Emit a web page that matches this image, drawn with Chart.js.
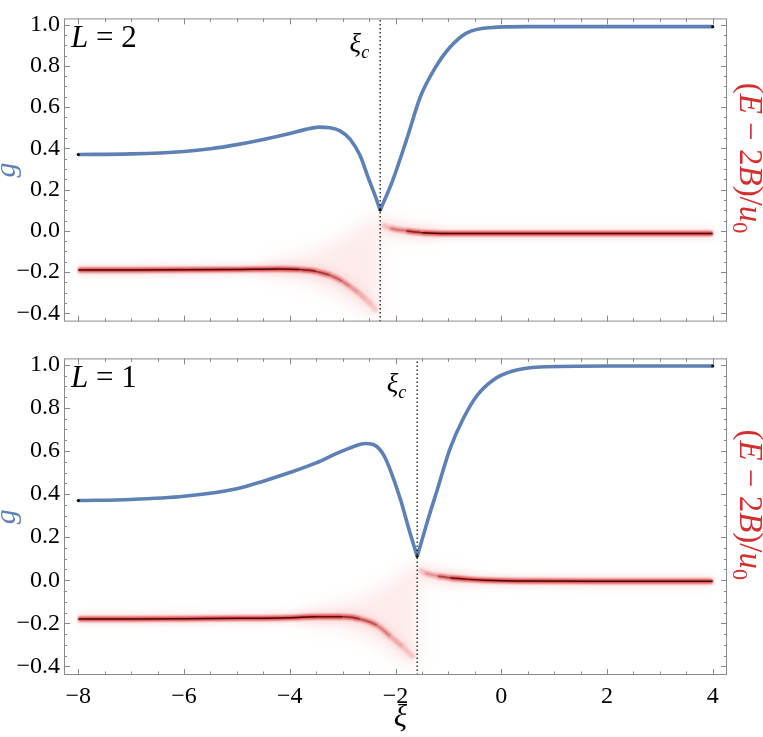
<!DOCTYPE html>
<html>
<head>
<meta charset="utf-8">
<script src="https://cdn.jsdelivr.net/npm/chart.js@4.4.1/dist/chart.umd.min.js"></script>
<style>
  html, body { margin: 0; padding: 0; background: #fff; }
  #wrap { position: relative; width: 763px; height: 737px; }
  canvas { position: absolute; left: 0; display: block; }
  #chart-top { top: 0; }
  #chart-bottom { top: 340px; }
</style>
</head>
<body>
<div id="wrap">
  <canvas id="chart-top" width="763" height="340"></canvas>
  <canvas id="chart-bottom" width="763" height="397"></canvas>
</div>
<script>
// axis ranges and tick labels
const xiRange = [-8.27, 4.27];
const gRange = [-0.44, 1.03];
const xTicks = [-8, -6, -4, -2, 0, 2, 4];
const yTicks = [-0.4, -0.2, 0.0, 0.2, 0.4, 0.6, 0.8, 1.0];

// L = 2 (top panel)
const xiC2 = -2.29;
const gLeftXi2 = [-8, -7, -6, -5.5, -5, -4.5, -4, -3.7, -3.45, -3.25, -3.05, -2.86, -2.67, -2.52, -2.4, -2.29];
const gLeft2 = [0.37, 0.373, 0.385, 0.398, 0.418, 0.443, 0.472, 0.492, 0.503, 0.50, 0.485, 0.445, 0.365, 0.26, 0.18, 0.10];
const gRightXi2 = [-2.29, -2.06, -1.78, -1.53, -1.25, -0.97, -0.65, -0.21, 0.5, 2, 4];
const gRight2 = [0.10, 0.24, 0.45, 0.65, 0.79, 0.89, 0.96, 0.985, 0.99, 0.99, 0.99];
const eLeftXi2 = [-8, -7, -6, -5, -4.2, -3.8, -3.5, -3.24, -3.0, -2.86, -2.7, -2.57, -2.45, -2.35];
const eLeft2 = [-0.19, -0.19, -0.189, -0.187, -0.185, -0.188, -0.197, -0.215, -0.245, -0.27, -0.30, -0.33, -0.36, -0.39];
const eRightXi2 = [-2.25, -2.1, -1.8, -1.5, -1.0, 0, 2, 4];
const eRight2 = [0.03, 0.013, 0.0, -0.009, -0.013, -0.013, -0.013, -0.013];
// spread of the energy density near the crossing
const fanLeftXi2 = [-4.5, -3.8, -3.2, -2.8, -2.5, -2.3];
const fanLeftUp2 = [-0.16, -0.12, -0.06, 0.0, 0.05, 0.09];
const fanLeftLo2 = [-0.21, -0.24, -0.30, -0.36, -0.41, -0.42];
const fanRightXi2 = [-2.29, -2.0, -1.6, -1.2];
const fanRightUp2 = [0.07, 0.045, 0.02, 0.01];
const fanRightLo2 = [-0.02, -0.025, -0.03, -0.03];

// L = 1 (bottom panel)
const xiC1 = -1.59;
const gLeftXi1 = [-8, -7, -6, -5, -4.5, -4, -3.5, -3.1, -2.8, -2.57, -2.38, -2.22, -2.08, -1.9, -1.75, -1.59];
const gLeft1 = [0.37, 0.375, 0.39, 0.425, 0.46, 0.50, 0.545, 0.59, 0.62, 0.635, 0.625, 0.58, 0.50, 0.37, 0.24, 0.11];
const gRightXi1 = [-1.59, -1.4, -1.21, -0.97, -0.72, -0.45, -0.15, 0.2, 0.73, 2, 4];
const gRight1 = [0.11, 0.27, 0.42, 0.61, 0.75, 0.86, 0.93, 0.97, 0.99, 0.995, 0.995];
const eLeftXi1 = [-8, -7, -6, -5, -4, -3.48, -2.99, -2.67, -2.35, -2.1, -1.86, -1.65];
const eLeft1 = [-0.18, -0.18, -0.179, -0.177, -0.174, -0.17, -0.17, -0.18, -0.21, -0.26, -0.31, -0.36];
const eRightXi1 = [-1.55, -1.45, -1.2, -0.97, -0.6, -0.3, 0.5, 2, 4];
const eRight1 = [0.05, 0.035, 0.02, 0.012, 0.004, 0.0, -0.004, -0.005, -0.005];
const fanLeftXi1 = [-3.8, -3.0, -2.5, -2.1, -1.8, -1.59];
const fanLeftUp1 = [-0.15, -0.11, -0.07, -0.01, 0.05, 0.09];
const fanLeftLo1 = [-0.20, -0.22, -0.27, -0.33, -0.39, -0.41];
const fanRightXi1 = [-1.59, -1.3, -0.9, -0.5];
const fanRightUp1 = [0.08, 0.05, 0.03, 0.02];
const fanRightLo1 = [0.0, -0.01, -0.02, -0.02];

const SERIF = 'Liberation Serif, DejaVu Serif, serif';
const BLUE = '#5e81b5';
const RED = '#d0302f';

function fmt(v, digits) {
  const s = (Math.abs(v) < 1e-9 ? 0 : v).toFixed(digits);
  return s.replace('-', '\u2212');
}

function fade(rgb, alpha, xFull, xZero, floor) {
  return ctx => {
    const x = (ctx.p0.parsed.x + ctx.p1.parsed.x) / 2;
    const t = Math.min(1, Math.max(0, (x - xFull) / (xZero - xFull)));
    return `rgba(${rgb},${alpha * (1 - (1 - floor) * t)})`;
  };
}

function lineSet(xs, ys, style) {
  return Object.assign({
    data: xs.map((x, i) => ({ x, y: ys[i] })),
    pointRadius: 0,
    fill: false,
    cubicInterpolationMode: 'monotone'
  }, style);
}

function redLayers(xs, ys, xiC, side) {
  const reach = side === 'left' ? -1.4 : 0.7;
  return [
    lineSet(xs, ys, { borderWidth: 11, blur: 3.5, order: 6, borderColor: 'rgba(225,50,50,0.12)',
      segment: { borderColor: fade('225,50,50', 0.12, xiC + reach, xiC, 0.6) } }),
    lineSet(xs, ys, { borderWidth: 5, blur: 1, order: 5, borderColor: 'rgba(215,30,30,0.8)',
      segment: { borderColor: fade('215,30,30', 0.8, xiC + reach, xiC, 0.12) } }),
    lineSet(xs, ys, { borderWidth: 1.5, order: 4, borderColor: 'rgba(70,5,5,0.95)',
      segment: { borderColor: fade('70,5,5', 0.95, xiC + reach * 1.3, xiC + reach * 0.3, 0) } })
  ];
}

function drawRich(ctx, parts, size, x, y, align) {
  const fontOf = p => `${p[1] ? 'italic ' : ''}${p[2] ? Math.round(size * 0.68) : size}px ${SERIF}`;
  let w = 0;
  parts.forEach(p => { ctx.font = fontOf(p); w += ctx.measureText(p[0]).width; });
  let cx = align === 'center' ? x - w / 2 : align === 'right' ? x - w : x;
  ctx.textAlign = 'left';
  ctx.textBaseline = 'alphabetic';
  parts.forEach(p => {
    ctx.font = fontOf(p);
    ctx.fillText(p[0], cx, y + (p[2] ? size * 0.22 : 0));
    cx += ctx.measureText(p[0]).width;
  });
}

function drawFan(chart, xs, up, lo) {
  const { ctx, chartArea: a, scales: { x, y } } = chart;
  ctx.save();
  ctx.beginPath();
  ctx.rect(a.left, a.top, a.right - a.left, a.bottom - a.top);
  ctx.clip();
  ctx.filter = 'blur(9px)';
  ctx.fillStyle = 'rgba(235,70,70,0.11)';
  ctx.beginPath();
  xs.forEach((v, i) => {
    const px = x.getPixelForValue(v), py = y.getPixelForValue(up[i]);
    if (i) ctx.lineTo(px, py); else ctx.moveTo(px, py);
  });
  for (let i = xs.length - 1; i >= 0; i--) ctx.lineTo(x.getPixelForValue(xs[i]), y.getPixelForValue(lo[i]));
  ctx.closePath();
  ctx.fill();
  ctx.restore();
}

const blurPlugin = {
  id: 'blurLayers',
  beforeDatasetDraw(chart, args) {
    const ds = chart.data.datasets[args.index];
    if (ds.blur) { chart.ctx.save(); chart.ctx.filter = `blur(${ds.blur}px)`; }
  },
  afterDatasetDraw(chart, args) {
    if (chart.data.datasets[args.index].blur) chart.ctx.restore();
  }
};

function makePanel(canvasId, p) {
  const decor = {
    id: 'decor',
    beforeDatasetsDraw(chart) {
      p.fans.forEach(f => drawFan(chart, f[0], f[1], f[2]));
    },
    afterDraw(chart) {
      const { ctx, chartArea: a, scales: { x, y } } = chart;
      ctx.save();
      // frame
      ctx.strokeStyle = '#8a8a8a';
      ctx.lineWidth = 1;
      ctx.strokeRect(a.left + 0.5, a.top + 0.5, a.right - a.left - 1, a.bottom - a.top - 1);
      // inward ticks
      ctx.beginPath();
      for (let v = -8; v <= 4.001; v += 0.5) {
        const px = Math.round(x.getPixelForValue(v)) + 0.5;
        const len = Math.abs(v / 2 - Math.round(v / 2)) < 1e-6 ? 6 : 3.5;
        ctx.moveTo(px, a.bottom); ctx.lineTo(px, a.bottom - len);
        ctx.moveTo(px, a.top); ctx.lineTo(px, a.top + len);
      }
      for (let k = -8; k <= 20; k++) {
        const py = Math.round(y.getPixelForValue(k * 0.05)) + 0.5;
        const len = k % 4 === 0 ? 6 : 3;
        ctx.moveTo(a.left, py); ctx.lineTo(a.left + len, py);
        ctx.moveTo(a.right, py); ctx.lineTo(a.right - len, py);
      }
      ctx.stroke();
      // texts
      ctx.fillStyle = '#000';
      drawRich(ctx, p.label, 31, a.left + 7, a.top + 29, 'left');
      drawRich(ctx, [['\u03be', 1], ['c', 1, 1]], 27, x.getPixelForValue(p.xiC) - 11, a.top + 34, 'right');
      if (p.showX) drawRich(ctx, [['\u03be', 1]], 31, (a.left + a.right) / 2 + 5, a.bottom + 51, 'center');
      const cy = (a.top + a.bottom) / 2;
      ctx.save();
      ctx.translate(15, cy);
      ctx.rotate(-Math.PI / 2);
      ctx.fillStyle = BLUE;
      drawRich(ctx, [['g', 1]], 30, 0, 0, 'center');
      ctx.restore();
      ctx.save();
      ctx.translate(740, cy - 12);
      ctx.rotate(Math.PI / 2);
      ctx.fillStyle = RED;
      drawRich(ctx, [['(', 0], ['E', 1], [' \u2212 2', 0], ['B', 1], [')/', 0], ['u', 1], ['0', 0, 1]], 33, 0, 0, 'center');
      ctx.restore();
      ctx.restore();
    }
  };

  const n = p.gLeftXi.length;
  const datasets = [
    lineSet([p.xiC, p.xiC], gRange, { borderWidth: 1.3, borderColor: '#111', borderDash: [1.5, 2.5],
      cubicInterpolationMode: 'default', order: 1 }),
    lineSet(p.gLeftXi, p.gLeft, { borderWidth: 3.6, borderColor: BLUE, order: 2,
      pointRadius: p.gLeftXi.map((v, i) => (i === 0 ? 1.6 : i === n - 1 ? 1.4 : 0)),
      pointBackgroundColor: '#111', pointBorderWidth: 0 }),
    lineSet(p.gRightXi, p.gRight, { borderWidth: 3.6, borderColor: BLUE, order: 2,
      pointRadius: p.gRightXi.map((v, i) => (i === p.gRightXi.length - 1 ? 1.6 : 0)),
      pointBackgroundColor: '#111', pointBorderWidth: 0 }),
    ...redLayers(p.eLeftXi, p.eLeft, p.xiC, 'left'),
    ...redLayers(p.eRightXi, p.eRight, p.xiC, 'right')
  ];

  return new Chart(document.getElementById(canvasId), {
    type: 'line',
    data: { datasets },
    options: {
      responsive: false,
      animation: false,
      events: [],
      layout: { padding: { top: p.padTop, bottom: p.padBottom, left: 0, right: 36 } },
      plugins: { legend: { display: false }, tooltip: { enabled: false } },
      scales: {
        x: {
          type: 'linear',
          min: xiRange[0],
          max: xiRange[1],
          display: p.showX,
          afterBuildTicks: s => { s.ticks = xTicks.map(v => ({ value: v })); },
          afterFit: s => { s.height = p.showX ? 62 : 0; },
          grid: { display: false, drawTicks: false },
          border: { display: false },
          ticks: { autoSkip: false, maxRotation: 0, padding: 7, color: '#000',
            font: { family: SERIF, size: 24 }, callback: v => fmt(v, 0) }
        },
        y: {
          type: 'linear',
          min: gRange[0],
          max: gRange[1],
          afterBuildTicks: s => { s.ticks = yTicks.map(v => ({ value: v })); },
          afterFit: s => { s.width = 64; },
          grid: { display: false, drawTicks: false },
          border: { display: false },
          ticks: { autoSkip: false, padding: 4, color: '#000',
            font: { family: SERIF, size: 24 }, callback: v => fmt(v, 1) }
        }
      }
    },
    plugins: [blurPlugin, decor]
  });
}

makePanel('chart-top', {
  xiC: xiC2, label: [['L', 1], [' = 2', 0]], showX: false, padTop: 3, padBottom: 6,
  gLeftXi: gLeftXi2, gLeft: gLeft2, gRightXi: gRightXi2, gRight: gRight2,
  eLeftXi: eLeftXi2, eLeft: eLeft2, eRightXi: eRightXi2, eRight: eRight2,
  fans: [[fanLeftXi2, fanLeftUp2, fanLeftLo2], [fanRightXi2, fanRightUp2, fanRightLo2]]
});

makePanel('chart-bottom', {
  xiC: xiC1, label: [['L', 1], [' = 1', 0]], showX: true, padTop: 4, padBottom: 0,
  gLeftXi: gLeftXi1, gLeft: gLeft1, gRightXi: gRightXi1, gRight: gRight1,
  eLeftXi: eLeftXi1, eLeft: eLeft1, eRightXi: eRightXi1, eRight: eRight1,
  fans: [[fanLeftXi1, fanLeftUp1, fanLeftLo1], [fanRightXi1, fanRightUp1, fanRightLo1]]
});
</script>
</body>
</html>
